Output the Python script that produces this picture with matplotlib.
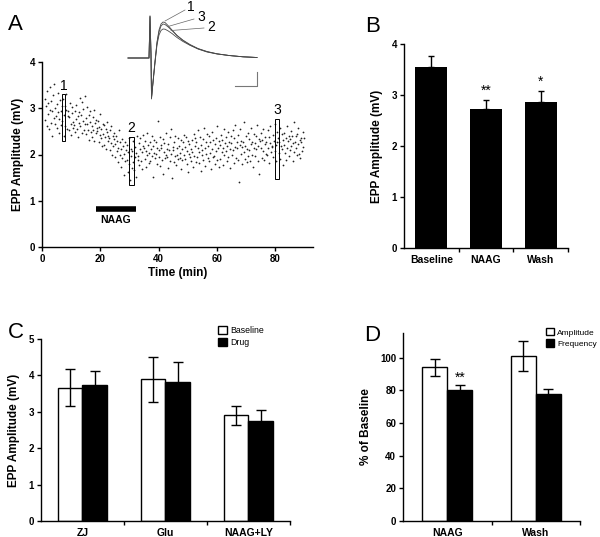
import numpy as np
import matplotlib
matplotlib.use("Agg")
import matplotlib.pyplot as plt
from matplotlib.patches import Rectangle

plt.rcParams['font.family'] = ['Liberation Sans', 'DejaVu Sans']

# ---- Panel A: EPP amplitude over time (one sweep every 0.2 min from 1 min) ----
epp_amp = [
    3.21, 2.74, 3.05, 2.62, 3.38, 2.88, 3.12, 2.55, 3.46, 2.97,
    2.68, 3.15, 2.41, 2.93, 3.28, 2.79, 3.52, 2.66, 3.01, 2.84,
    3.09, 2.58, 2.91, 3.33, 2.47, 2.76, 3.18, 2.95, 2.63, 3.04,
    2.72, 3.21, 2.39, 2.86, 3.05, 2.61, 2.97, 3.30, 2.55, 2.83,
    2.94, 2.52, 2.81, 3.12, 2.66, 2.43, 2.89, 3.02, 2.71, 2.58,
    2.63, 2.95, 2.48, 2.77, 3.08, 2.56, 2.84, 2.38, 2.69, 2.91,
    3.22, 2.61, 2.85, 3.14, 2.47, 2.73, 2.98, 2.52, 3.27, 2.66,
    2.79, 2.44, 2.67, 3.02, 2.53, 2.86, 2.31, 2.70, 2.95, 2.49,
    2.62, 2.38, 2.81, 2.54, 2.97, 2.29, 2.68, 2.46, 2.75, 2.57,
    2.51, 2.73, 2.26, 2.60, 2.42, 2.88, 2.35, 2.55, 2.19, 2.66,
    2.44, 2.21, 2.63, 2.37, 2.56, 2.12, 2.48, 2.71, 2.30, 2.41,
    2.35, 2.09, 2.52, 2.24, 2.61, 1.98, 2.40, 2.18, 2.33, 2.47,
    2.22, 1.95, 2.41, 2.08, 2.30, 1.84, 2.15, 2.52, 1.99, 2.27,
    2.11, 1.72, 2.34, 1.93, 2.18, 1.55, 2.02, 2.27, 1.86, 2.09,
    1.88, 2.21, 1.62, 2.05, 1.79, 2.36, 1.45, 1.97, 2.12, 1.70,
    2.08, 1.83, 2.29, 1.66, 1.94, 2.17, 1.51, 2.03, 2.40, 1.89,
    1.96, 2.24, 1.78, 2.11, 2.35, 1.87, 2.05, 1.69, 2.19, 2.42,
    2.13, 1.91, 2.30, 1.74, 2.07, 2.46, 1.98, 2.21, 1.82, 2.03,
    2.26, 1.85, 2.12, 2.39, 1.97, 2.18, 1.52, 2.04, 2.31, 1.93,
    2.01, 2.28, 1.80, 2.15, 2.72, 1.94, 2.09, 2.37, 1.76, 2.20,
    2.14, 1.88, 2.33, 1.58, 2.06, 2.25, 1.92, 2.47, 1.99, 2.11,
    1.95, 2.22, 1.71, 2.10, 2.38, 1.86, 2.02, 2.56, 1.50, 2.17,
    2.09, 1.83, 2.28, 1.97, 2.41, 1.77, 2.13, 2.00, 2.35, 1.90,
    2.18, 1.93, 2.04, 2.32, 1.68, 2.11, 1.89, 2.26, 2.43, 1.98,
    1.91, 2.16, 2.37, 1.79, 2.08, 2.29, 1.62, 2.01, 2.22, 1.95,
    2.12, 1.87, 2.31, 2.05, 1.72, 2.44, 1.96, 2.19, 2.35, 1.83,
    2.27, 1.94, 2.13, 2.52, 1.81, 2.06, 2.38, 1.65, 2.21, 2.00,
    2.09, 2.34, 1.88, 2.57, 2.15, 1.76, 2.28, 2.02, 2.45, 1.92,
    2.18, 1.85, 2.40, 2.03, 2.26, 1.69, 2.12, 2.49, 1.95, 2.31,
    1.97, 2.22, 1.80, 2.36, 2.07, 2.61, 1.89, 2.14, 1.74, 2.29,
    2.20, 1.91, 2.43, 2.06, 2.32, 1.78, 2.15, 2.55, 1.98, 2.25,
    2.08, 2.37, 1.86, 2.19, 2.48, 1.95, 2.27, 1.70, 2.11, 2.40,
    2.24, 1.99, 2.53, 2.10, 1.82, 2.35, 2.17, 2.64, 1.93, 2.28,
    2.13, 1.88, 2.42, 1.41, 2.21, 2.56, 2.02, 2.30, 1.79, 2.16,
    2.27, 2.05, 2.70, 1.90, 2.18, 2.39, 1.84, 2.12, 2.47, 1.96,
    2.10, 2.33, 1.87, 2.22, 2.58, 2.00, 2.26, 1.72, 2.14, 2.44,
    2.25, 1.97, 2.40, 2.11, 2.63, 1.85, 2.19, 2.34, 1.58, 2.29,
    2.15, 2.46, 1.93, 2.31, 2.07, 2.55, 1.88, 2.23, 2.38, 2.02,
    2.28, 1.99, 2.52, 2.13, 2.37, 1.81, 2.24, 2.61, 2.05, 2.19,
    2.17, 2.43, 1.95, 2.30, 2.66, 2.08, 2.21, 1.86, 2.49, 2.26,
    2.35, 2.04, 2.27, 2.58, 1.91, 2.19, 2.44, 2.12, 1.78, 2.31,
    2.20, 2.47, 2.03, 2.36, 1.89, 2.62, 2.15, 2.29, 2.41, 1.97,
    2.33, 2.09, 2.51, 2.18, 2.40, 1.86, 2.25, 2.70, 2.06, 2.28,
    2.14, 2.39, 1.99, 2.45, 2.23, 2.57, 2.02, 2.31, 1.92, 2.36,
    2.27, 2.08, 2.48, 2.16, 2.35,
]
sweep_interval = 0.2
first_sweep = 1.0
epp_time = first_sweep + sweep_interval * np.arange(len(epp_amp))

# averaging windows marked 1, 2, 3
win_labels = ['1', '2', '3']
win_start = [6.8, 30.0, 80.1]
win_end = [8.0, 31.5, 81.5]
win_lo = [2.30, 1.35, 1.48]
win_hi = [3.30, 2.38, 2.77]

naag_on, naag_off = 18.4, 32.2

# inset traces (ms, mV-ish units)
trace_t = [0.3, 2.4, 2.5, 2.6, 2.65, 2.8, 3.0, 3.2, 3.4, 3.6, 3.8, 4.0,
           4.3, 4.7, 5.2, 5.8, 6.5, 7.3, 8.2, 9.2, 10.4, 11.8, 13.2]
trace1 = [0, 0, 4.2, 0.4, -4.1, -2.4, -0.3, 1.6, 2.8, 3.4, 3.6, 3.55,
          3.25, 2.8, 2.25, 1.75, 1.3, 0.9, 0.6, 0.4, 0.25, 0.12, 0.05]
trace3 = [0, 0, 4.2, 0.4, -4.0, -2.4, -0.4, 1.5, 2.6, 3.2, 3.4, 3.35,
          3.12, 2.75, 2.25, 1.78, 1.35, 0.95, 0.65, 0.42, 0.25, 0.12, 0.05]
trace2 = [0, 0, 4.1, 0.4, -4.0, -2.5, -0.5, 1.3, 2.3, 2.75, 2.9, 2.88,
          2.72, 2.45, 2.05, 1.65, 1.27, 0.92, 0.63, 0.42, 0.25, 0.12, 0.05]

# ---- Panel B ----
b_labels = ['Baseline', 'NAAG', 'Wash']
b_mean = [3.55, 2.73, 2.86]
b_sem = [0.21, 0.17, 0.22]
b_stars = ['', '**', '*']

# ---- Panel C ----
c_labels = ['ZJ', 'Glu', 'NAAG+LY']
c_base = [3.66, 3.89, 2.91]
c_base_err = [0.51, 0.61, 0.26]
c_drug = [3.73, 3.82, 2.75]
c_drug_err = [0.39, 0.55, 0.31]

# ---- Panel D ----
d_labels = ['NAAG', 'Wash']
d_amp = [94, 101]
d_amp_err = [5, 9]
d_freq = [80, 77.5]
d_freq_err = [3, 3.5]
d_stars = ['**', '']

W, H = 600, 537
fig = plt.figure(figsize=(6.0, 5.37), dpi=100)


def px_axes(x0, x1, ytop, ybot):
    return fig.add_axes([x0 / W, 1 - ybot / H, (x1 - x0) / W, (ybot - ytop) / H])


def style(ax):
    for s in ['top', 'right']:
        ax.spines[s].set_visible(False)
    for s in ['left', 'bottom']:
        ax.spines[s].set_linewidth(1.0)
    ax.tick_params(direction='out', length=3, width=1, labelsize=7, pad=2)
    for lab in ax.get_yticklabels() + ax.get_xticklabels():
        lab.set_fontweight('bold')


def cat_axis(ax, n, labels):
    ax.set_xlim(-0.5, n - 0.5)
    ax.set_xticks(np.arange(n) + 0.5)
    ax.set_xticklabels([])
    ax.set_xticks(np.arange(n), minor=True)
    ax.set_xticklabels(labels, minor=True, fontweight='bold', fontsize=7.5)
    ax.tick_params(axis='x', which='minor', length=0, pad=5)


# ---- A ----
axA = px_axes(42, 313, 62, 247)
axA.scatter(epp_time, epp_amp, s=1.6, c='#222222', linewidths=0)
for lab, t0, t1, lo, hi in zip(win_labels, win_start, win_end, win_lo, win_hi):
    axA.add_patch(Rectangle((t0, lo), t1 - t0, hi - lo, facecolor='none',
                            edgecolor='black', lw=0.7))
    axA.text((t0 + t1) / 2, hi + 0.04, lab, ha='center', va='bottom', fontsize=10)
axA.plot([naag_on, naag_off], [0.82, 0.82], color='black', lw=4, solid_capstyle='butt')
axA.text((naag_on + naag_off) / 2, 0.7, 'NAAG', ha='center', va='top',
         fontsize=7.5, fontweight='bold')
axA.set_xlim(0, 93)
axA.set_ylim(0, 4)
axA.set_xticks([0, 20, 40, 60, 80])
axA.set_yticks([0, 1, 2, 3, 4])
axA.set_xlabel('Time (min)', fontsize=8.5, fontweight='bold', labelpad=2)
axA.set_ylabel('EPP Amplitude (mV)', fontsize=8.5, fontweight='bold', labelpad=4)
style(axA)

# inset
axI = px_axes(125, 260, 10, 102)
for tr in [trace2, trace3, trace1]:
    axI.plot(trace_t, tr, color='#4a4a4a', lw=0.6)
axI.plot([11.0, 13.2, 13.2], [-2.8, -2.8, -1.4], color='#777777', lw=0.8)
leaders = [('1', (4.0, 3.7), (6.0, 4.8), (6.2, 5.1)),
           ('3', (4.3, 3.15), (6.9, 3.9), (7.2, 4.1)),
           ('2', (4.6, 2.75), (7.9, 3.0), (8.2, 3.1))]
for lab, p0, p1, pt in leaders:
    axI.plot([p0[0], p1[0]], [p0[1], p1[1]], color='#666666', lw=0.5, clip_on=False)
    axI.text(pt[0], pt[1], lab, fontsize=10, ha='left', va='center', clip_on=False)
axI.set_xlim(0, 13.5)
axI.set_ylim(-4.4, 4.8)
axI.axis('off')

# ---- B ----
axB = px_axes(404, 568, 44, 248)
xb = np.arange(len(b_labels))
axB.bar(xb, b_mean, width=0.58, color='black')
axB.errorbar(xb, b_mean, yerr=[[0] * len(b_sem), b_sem], fmt='none',
             ecolor='black', elinewidth=1, capsize=2.5, capthick=1)
for x, m, e, st in zip(xb, b_mean, b_sem, b_stars):
    if st:
        axB.text(x, m + e + 0.05, st, ha='center', va='bottom', fontsize=10)
axB.set_ylim(0, 4)
axB.set_yticks([0, 1, 2, 3, 4])
cat_axis(axB, len(b_labels), b_labels)
axB.set_ylabel('EPP Amplitude (mV)', fontsize=8.5, fontweight='bold', labelpad=6)
style(axB)

# ---- C ----
axC = px_axes(41, 290, 339, 521)
xc = np.arange(len(c_labels))
bw = 0.29
axC.bar(xc - bw / 2, c_base, width=bw, color='white', edgecolor='black', lw=1,
        label='Baseline')
axC.bar(xc + bw / 2, c_drug, width=bw, color='black', edgecolor='black', lw=1,
        label='Drug')
axC.errorbar(xc - bw / 2, c_base, yerr=c_base_err, fmt='none', ecolor='black',
             elinewidth=1, capsize=3.5, capthick=1)
axC.errorbar(xc + bw / 2, c_drug, yerr=c_drug_err, fmt='none', ecolor='black',
             elinewidth=1, capsize=3.5, capthick=1)
axC.set_ylim(0, 5)
axC.set_yticks([0, 1, 2, 3, 4, 5])
cat_axis(axC, len(c_labels), c_labels)
axC.set_ylabel('EPP Amplitude (mV)', fontsize=8.5, fontweight='bold', labelpad=6)
axC.legend(loc='upper left', bbox_to_anchor=(218 / W, 1 - 326 / H),
           bbox_transform=fig.transFigure, frameon=False, fontsize=6.3,
           handlelength=1.0, handleheight=1.0, handletextpad=0.4,
           labelspacing=0.3, borderaxespad=0, borderpad=0)
style(axC)

# ---- D ----
axD = px_axes(403, 580, 333, 521)
xd = np.arange(len(d_labels))
bw = 0.285
axD.bar(xd - bw / 2, d_amp, width=bw, color='white', edgecolor='black', lw=1,
        label='Amplitude')
axD.bar(xd + bw / 2, d_freq, width=bw, color='black', edgecolor='black', lw=1,
        label='Frequency')
axD.errorbar(xd - bw / 2, d_amp, yerr=d_amp_err, fmt='none', ecolor='black',
             elinewidth=1, capsize=3.5, capthick=1)
axD.errorbar(xd + bw / 2, d_freq, yerr=d_freq_err, fmt='none', ecolor='black',
             elinewidth=1, capsize=3.5, capthick=1)
for x, m, e, st in zip(xd, d_freq, d_freq_err, d_stars):
    if st:
        axD.text(x + bw / 2, m + e + 0.5, st, ha='center', va='bottom', fontsize=10)
axD.set_ylim(0, 115)
axD.set_yticks([0, 20, 40, 60, 80, 100])
cat_axis(axD, len(d_labels), d_labels)
axD.set_ylabel('% of Baseline', fontsize=8.5, fontweight='bold', labelpad=6)
axD.legend(loc='upper left', bbox_to_anchor=(546 / W, 1 - 328 / H),
           bbox_transform=fig.transFigure, frameon=False, fontsize=6.0,
           handlelength=1.0, handleheight=1.0, handletextpad=0.35,
           labelspacing=0.3, borderaxespad=0, borderpad=0)
style(axD)

# panel letters
for lab, x, y in [('A', 8, 30), ('B', 365, 32), ('C', 8, 338), ('D', 364, 341)]:
    fig.text(x / W, 1 - y / H, lab, fontsize=16, ha='left', va='baseline')

fig.savefig('out.png', dpi=100)
